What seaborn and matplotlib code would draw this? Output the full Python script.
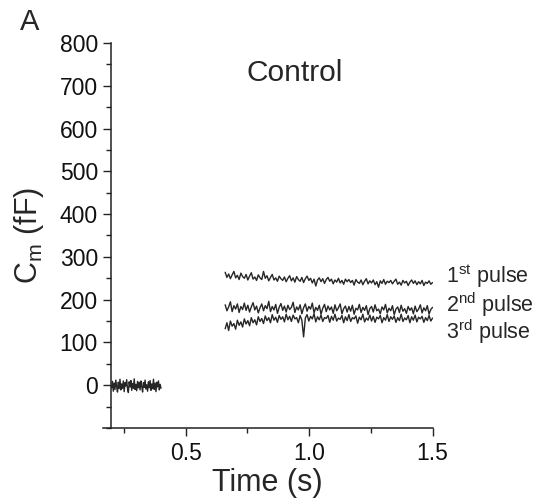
import numpy as np
import pandas as pd
import matplotlib
matplotlib.use("Agg")
import matplotlib.pyplot as plt
from matplotlib.ticker import MultipleLocator
import seaborn as sns

# ---- data ----
baseline_t = (0.20, 0.40)
baseline = [-6, 9, -14, 5, -10, 12, -3, -16, 7, -8, 14, -11, 3, -7, 10, -15, 6, -2, 13, -9,
            -17, 8, -4, 11, -12, 4, -7, 15, -10, 2, -13, 9, -6, 7, -11, 10, -3, -16, 6, -5,
            12, -9, 1, -14, 8, -6, 11, -12, 3, -8, 14, -10, 5, -15, 7, -4, 10, -11, 2, -7]

pulse_t = (0.66, 1.50)
pulse1 = [264, 252, 260, 249, 258, 266, 251, 257, 247, 262, 254, 250,
          259, 246, 255, 263, 248, 253, 245, 258, 251, 247, 266, 250,
          256, 244, 252, 259, 246, 251, 243, 255, 249, 245, 253, 242,
          250, 256, 244, 251, 241, 254, 247, 243, 252, 240, 249, 255,
          245, 250, 239, 248, 232, 246, 251, 242, 249, 238, 247, 252,
          243, 248, 237, 246, 241, 250, 239, 245, 236, 248, 242, 247,
          240, 245, 234, 247, 241, 238, 246, 235, 243, 249, 237, 244,
          239, 246, 235, 242, 229, 244, 238, 247, 236, 243, 240, 245,
          237, 243, 248, 236, 241, 234, 245, 239, 243, 233, 241, 246,
          238, 244, 235, 242, 237, 245, 233, 241, 238, 244, 236, 240]
pulse2 = [188, 174, 183, 195, 172, 186, 178, 190, 170, 184, 177, 192,
          175, 187, 171, 183, 193, 176, 185, 169, 181, 190, 174, 186,
          179, 196, 172, 184, 176, 189, 168, 182, 191, 175, 185, 171,
          187, 177, 182, 194, 170, 183, 176, 188, 167, 181, 190, 173,
          184, 178, 192, 169, 182, 175, 187, 166, 180, 189, 172, 185,
          176, 183, 168, 188, 174, 181, 190, 167, 179, 185, 171, 184,
          173, 187, 166, 180, 176, 189, 170, 182, 175, 186, 165, 179,
          184, 171, 188, 174, 178, 167, 183, 176, 189, 169, 180, 174,
          186, 165, 178, 183, 170, 187, 173, 179, 168, 184, 175, 181,
          167, 185, 172, 178, 188, 169, 181, 174, 186, 166, 177, 182]
pulse3 = [132, 146, 128, 150, 138, 144, 131, 152, 140, 148, 136, 155,
          143, 151, 139, 158, 146, 153, 141, 160, 149, 156, 144, 162,
          151, 158, 146, 165, 152, 159, 147, 163, 154, 160, 148, 166,
          153, 161, 149, 164, 155, 158, 146, 163, 152, 113, 157, 165,
          150, 161, 155, 167, 148, 160, 153, 164, 149, 158, 156, 163,
          147, 161, 152, 166, 150, 157, 154, 163, 146, 160, 151, 165,
          149, 158, 155, 162, 145, 159, 153, 166, 148, 157, 152, 164,
          150, 161, 147, 159, 155, 163, 146, 158, 152, 165, 149, 160,
          154, 162, 147, 158, 151, 166, 149, 157, 153, 163, 146, 160,
          152, 164, 148, 159, 155, 161, 147, 158, 151, 163, 150, 157]

pulse_labels = [r"1$^{\rm st}$ pulse", r"2$^{\rm nd}$ pulse", r"3$^{\rm rd}$ pulse"]
label_y = [256, 188, 126]

# ---- style ----
sns.set_theme(style="ticks")
plt.rcParams["font.family"] = ["Liberation Sans", "DejaVu Sans"]
plt.rcParams["mathtext.fontset"] = "custom"
plt.rcParams["mathtext.rm"] = "Liberation Sans"
plt.rcParams["mathtext.it"] = "Liberation Sans:italic"

fig = plt.figure(figsize=(5.4, 5.04), dpi=100)
ax = fig.add_axes([0.1907, 0.1508, 0.801 - 0.1907, 0.9147 - 0.1508])

frames = []
frames.append(pd.DataFrame({"t": np.linspace(*baseline_t, len(baseline)), "cm": baseline}))
for vals in (pulse1, pulse2, pulse3):
    frames.append(pd.DataFrame({"t": np.linspace(*pulse_t, len(vals)), "cm": vals}))

for df in frames:
    sns.lineplot(data=df, x="t", y="cm", ax=ax, color="black", lw=1.0, alpha=0.85,
                 estimator=None, sort=False)

ax.set_xlim(0.165, 1.5)
ax.set_ylim(-100, 800)
ax.spines["left"].set_position(("data", 0.198))
sns.despine(ax=ax)
for s in ("left", "bottom"):
    ax.spines[s].set_linewidth(1.1)
    ax.spines[s].set_color("#222222")

ax.xaxis.set_minor_locator(MultipleLocator(0.25))
ax.yaxis.set_minor_locator(MultipleLocator(50))
ax.set_yticks(np.arange(0, 801, 100))
ax.set_xticks([0.5, 1.0, 1.5])
ax.set_xticklabels(["0.5", "1.0", "1.5"])
ax.tick_params(axis="both", which="major", length=6, width=1, labelsize=16.5,
               color="#222222", labelcolor="#111111")
ax.tick_params(axis="both", which="minor", length=3.5, width=1, color="#222222")
ax.tick_params(axis="x", pad=4)

ax.set_xlabel("Time (s)", fontsize=22, labelpad=2)
ax.set_ylabel(r"C$_{\rm m}$ (fF)", fontsize=22, labelpad=10)

ax.text(0.943, 730, "Control", fontsize=21.5, ha="center", va="center")
for lab, y in zip(pulse_labels, label_y):
    ax.text(1.554, y, lab, fontsize=15.5, ha="left", va="center", clip_on=False)

fig.text(0.037, 0.957, "A", fontsize=21, ha="left", va="center")

fig.savefig("out.png", dpi=100)
